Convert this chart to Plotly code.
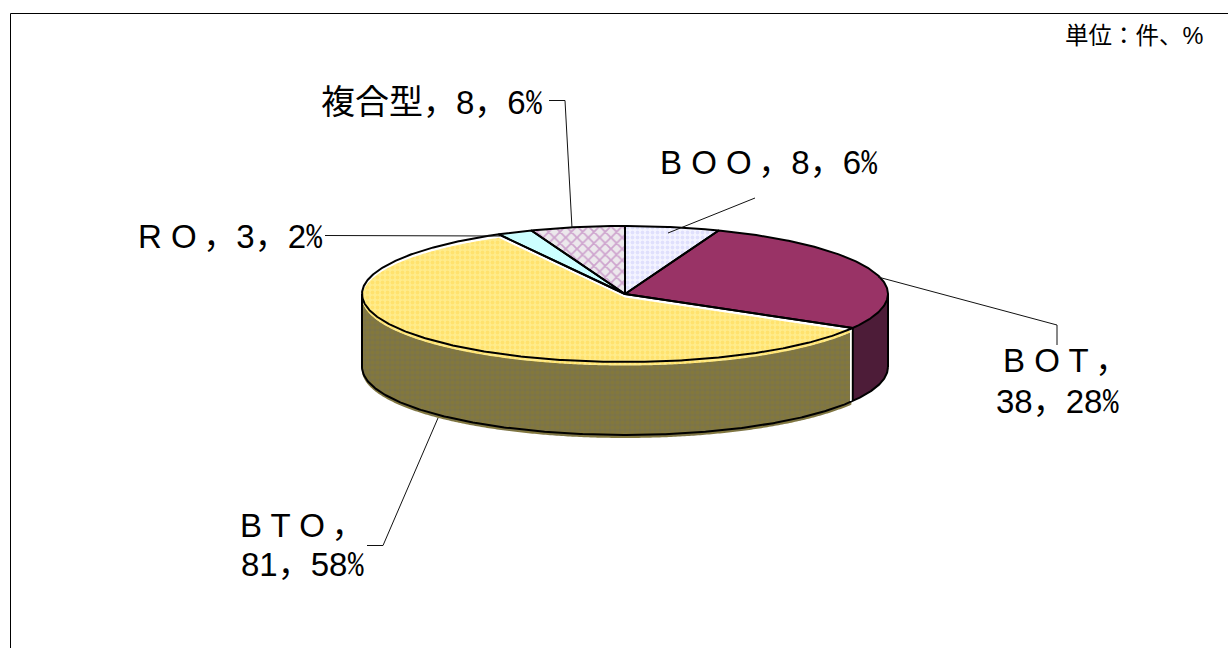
import numpy as np
import plotly.graph_objects as go

categories = ["B O O", "B O T", "B T O", "R O", "複合型"]
counts = [8, 38, 81, 3, 8]
percents = [6, 28, 58, 2, 6]
unit_label = "単位：件、%"

# Pie geometry (pixels on a 1228x648 canvas)
CX, CY, RX, RY, DEPTH = 625, 294, 263, 68, 73
total = sum(counts)
edges = np.cumsum([0] + counts) / total * 360.0


def ex(t):
    return CX + RX * np.sin(np.radians(t))


def ey(t, dy=0):
    return CY - RY * np.cos(np.radians(t)) + dy


def arc(t0, t1):
    return np.linspace(t0, t1, max(int(abs(t1 - t0) * 2), 2))


def wedge(i, dy=0):
    t = arc(edges[i], edges[i + 1])
    x = np.concatenate([[CX], ex(t), [CX]])
    y = np.concatenate([[CY + dy], ey(t, dy), [CY + dy]])
    return x, y


def side(t0, t1, dy=0):
    t = arc(t0, t1)
    x = np.concatenate([ex(t), ex(t[::-1]), [ex(t0)]])
    y = np.concatenate([ey(t, dy), ey(t[::-1], dy + DEPTH), [ey(t0, dy)]])
    return x, y


def fill_trace(x, y, color=None, pattern=None):
    kw = dict(x=x, y=y, mode="none", fill="toself", hoverinfo="skip", showlegend=False)
    if pattern:
        kw["fillpattern"] = pattern
        kw["fillcolor"] = pattern["bgcolor"]
    else:
        kw["fillcolor"] = color
    return go.Scatter(**kw)


def line_trace(x, y, color="black", width=2):
    return go.Scatter(x=x, y=y, mode="lines", line=dict(color=color, width=width),
                      hoverinfo="skip", showlegend=False)


PAT_BOO = dict(shape=".", bgcolor="#F4F4FF", fgcolor="#CBCBFA", size=5, solidity=0.45)
PAT_BTO = dict(shape=".", bgcolor="#FFEC8C", fgcolor="#FFD850", size=5, solidity=0.45)
PAT_MIX = dict(shape="x", bgcolor="#ECE8EC", fgcolor="#B060B0", size=8, solidity=0.4)
PAT_SIDE = dict(shape=".", bgcolor="#7C7448", fgcolor="#8A7C30", size=5, solidity=0.45)

fig = go.Figure()

# Sides
fig.add_trace(fill_trace(*side(edges[2] + 0.6, 270, dy=3), pattern=PAT_SIDE))
fig.add_trace(fill_trace(*side(90, edges[2]), color="#4D1C38"))

# Top
tt = arc(0, 360)
fig.add_trace(fill_trace(ex(tt), ey(tt), color="white"))
fig.add_trace(fill_trace(*wedge(0), pattern=PAT_BOO))
fig.add_trace(fill_trace(*wedge(1), color="#993366"))
fig.add_trace(fill_trace(*wedge(2, dy=3.5), pattern=PAT_BTO))
fig.add_trace(fill_trace(*wedge(3), color="#CCFFFF"))
fig.add_trace(fill_trace(*wedge(4), pattern=PAT_MIX))

# Outlines
tb = arc(90, 270)
fig.add_trace(line_trace(ex(tb), ey(tb, DEPTH)))
for a in (90, 270, edges[2]):
    fig.add_trace(line_trace([ex(a), ex(a)], [ey(a), ey(a, DEPTH)]))
fig.add_trace(line_trace([ex(edges[2]) - 2, ex(edges[2]) - 2],
                         [ey(edges[2]) + 2, ey(edges[2], DEPTH)], color="white", width=1.5))
for i in range(len(counts)):
    fig.add_trace(line_trace(*wedge(i)))

# Leader lines
leaders = [
    ([668, 755], [233, 198]),
    ([878, 1057, 1057], [277, 325, 345]),
    ([438, 383, 367], [418, 545.5, 545.5]),
    ([325, 500], [235.5, 236]),
    ([549, 565, 572], [100.5, 100.5, 228]),
]
for lx, ly in leaders:
    fig.add_trace(go.Scatter(x=lx, y=ly, mode="lines", line=dict(color="#111111", width=1),
                             hoverinfo="skip", showlegend=False))

FONT = "Liberation Sans, Noto Sans CJK JP, sans-serif"
PCT = ("<span style=\"font-family:'Noto Sans CJK JP';"
       "font-feature-settings:'hwid'\">%</span>")
GAP = "\u2009"

anns = [
    (658, 160, f"{categories[0]}{GAP}，{counts[0]}，{percents[0]}{PCT}"),
    (1001, 360, f"{categories[1]}{GAP}，"),
    (994, 399, f"{counts[1]}，{percents[1]}{PCT}"),
    (238, 525, f"{categories[2]}{GAP}，"),
    (239, 562, f"{counts[2]}，{percents[2]}{PCT}"),
    (136, 234, f"{categories[3]}{GAP}，{counts[3]}，{percents[3]}{PCT}"),
    (319, 100, f"<span style=\"font-size:34px\">{categories[4]}</span>，{counts[4]}，{percents[4]}{PCT}"),
]
annotations = [dict(x=x, y=y, xref="x", yref="y", text=t, showarrow=False, xanchor="left",
                    yanchor="middle", align="left", font=dict(family=FONT, size=33, color="black"))
               for x, y, t in anns]
annotations.append(dict(x=1206, y=36, xref="x", yref="y", text=unit_label, showarrow=False,
                        xanchor="right", yanchor="middle",
                        font=dict(family=FONT, size=23.5, color="black")))

frame = [
    dict(type="line", xref="x", yref="y", x0=10.5, x1=1228, y0=13.5, y1=13.5,
         line=dict(color="black", width=1)),
    dict(type="line", xref="x", yref="y", x0=10.5, x1=10.5, y0=13.5, y1=648,
         line=dict(color="black", width=1)),
]

fig.update_layout(
    width=1228, height=648, margin=dict(l=0, r=0, t=0, b=0),
    paper_bgcolor="white", plot_bgcolor="white", showlegend=False,
    xaxis=dict(range=[0, 1228], visible=False, fixedrange=True),
    yaxis=dict(range=[648, 0], visible=False, fixedrange=True),
    annotations=annotations, shapes=frame,
)

fig.write_html("out.html", config={"displayModeBar": False},
               post_script="document.body.style.margin='0';document.body.style.overflow='hidden';")
